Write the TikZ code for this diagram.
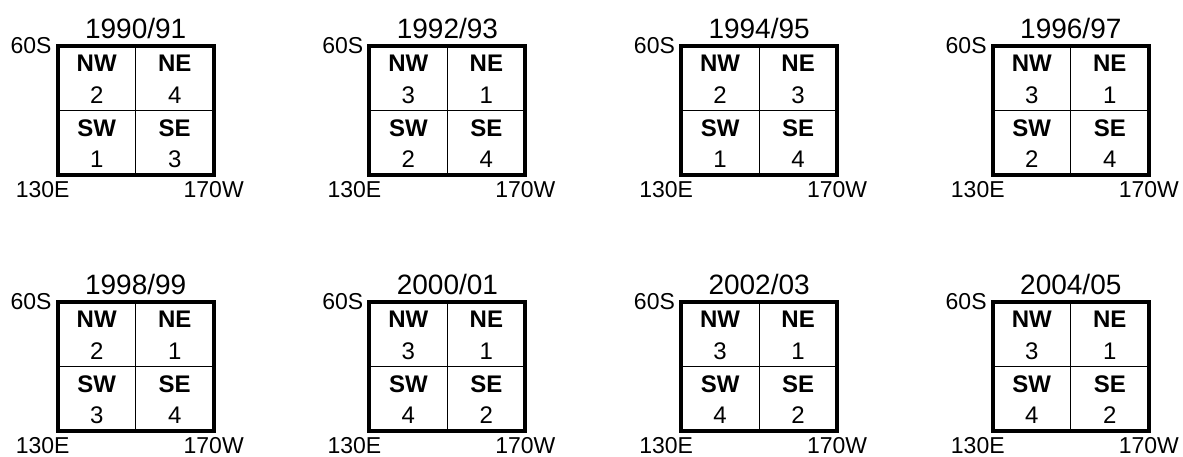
\documentclass[tikz,border=0pt]{standalone}
\usepackage{fontspec}
\setmainfont{Liberation Sans}
\tikzset{
  lab/.style={font=\fontsize{23}{23}\selectfont, anchor=base, inner sep=0pt},
  cellv/.style={font=\fontsize{24}{24}\selectfont, anchor=base, inner sep=0pt},
  bl/.style={font=\fontsize{24}{24}\selectfont\bfseries, anchor=base, inner sep=0pt},
  ttl/.style={font=\fontsize{28}{28}\selectfont, anchor=base, inner sep=0pt},
  outerline/.style={line width=4pt},
  innerline/.style={line width=1.2pt},
}
% #1 x, #2 y, #3 title, #4 NW, #5 NE, #6 SW, #7 SE, #8 id
\newcommand\quadpanel[8]{%
  \begin{scope}[shift={(#1,#2)}]
    \coordinate (#8tl) at (0,0);
    \coordinate (#8br) at (156,129);
    \coordinate (#8mt) at (78,0);
    \coordinate (#8mb) at (78,129);
    \coordinate (#8ml) at (0,64.5);
    \coordinate (#8mr) at (156,64.5);
    \draw[innerline] (#8mt) -- (#8mb);
    \draw[innerline] (#8ml) -- (#8mr);
    \draw[outerline] (#8tl) rectangle (#8br);
    \node[ttl] (#8title) at (78,-8) {#3};
    \node[lab, anchor=base east] (#8lat) at (-6,7) {60S};
    \node[lab] (#8lonw) at (-15,151.7) {130E};
    \node[lab] (#8lone) at (156,151.7) {170W};
    \node[bl] (#8nw) at (39,25.5) {NW};
    \node[bl] (#8ne) at (117,25.5) {NE};
    \node[bl] (#8sw) at (39,90) {SW};
    \node[bl] (#8se) at (117,90) {SE};
    \node[cellv] (#8nwv) at (39,57.5) {#4};
    \node[cellv] (#8nev) at (117,57.5) {#5};
    \node[cellv] (#8swv) at (39,121.5) {#6};
    \node[cellv] (#8sev) at (117,121.5) {#7};
  \end{scope}}
\begin{document}
\begin{tikzpicture}[x=1pt,y=-1pt]
  \useasboundingbox (0,0) rectangle (1183,457);
  \quadpanel{57.7}{46.3}{1990/91}{2}{4}{1}{3}{pa}
  \quadpanel{369.4}{46.3}{1992/93}{3}{1}{2}{4}{pb}
  \quadpanel{681.1}{46.3}{1994/95}{2}{3}{1}{4}{pc}
  \quadpanel{992.8}{46.3}{1996/97}{3}{1}{2}{4}{pd}
  \quadpanel{57.7}{302}{1998/99}{2}{1}{3}{4}{pe}
  \quadpanel{369.4}{302}{2000/01}{3}{1}{4}{2}{pf}
  \quadpanel{681.1}{302}{2002/03}{3}{1}{4}{2}{pg}
  \quadpanel{992.8}{302}{2004/05}{3}{1}{4}{2}{ph}
\end{tikzpicture}
\end{document}
